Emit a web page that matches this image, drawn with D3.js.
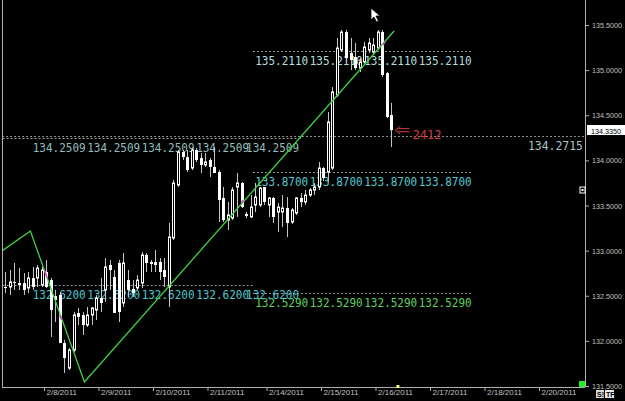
<!DOCTYPE html>
<html><head><meta charset="utf-8">
<script src="https://cdn.jsdelivr.net/npm/d3@7"></script>
<style>html,body{margin:0;padding:0;background:#000;overflow:hidden}</style>
</head><body><svg id="c" width="625" height="401"></svg>
<script>
// ---------- data ----------
const opens = [132.974,132.597,132.597,132.652,132.641,132.641,132.586,132.697,132.697,132.619,
132.763,132.674,132.497,132.508,131.976,131.699,131.899,132.309,132.287,132.176,
132.287,132.342,132.475,132.564,132.841,132.708,132.863,132.420,132.674,132.575,
132.586,132.641,132.952,132.874,132.874,132.874,132.785,132.597,133.140,133.727,
134.093,134.037,133.915,134.115,134.026,133.949,134.004,133.927,133.871,133.583,
133.339,133.361,133.705,133.749,133.406,133.373,133.506,133.506,133.705,133.506,
133.583,133.428,133.428,133.472,133.317,133.417,133.583,133.539,133.616,133.672,
133.705,133.915,133.871,133.915,134.724,135.223,135.422,135.190,135.145,135.023,
135.090,135.223,135.201,135.245,135.422,134.968,134.503];
const highs = [132.996,132.763,132.785,132.863,132.807,132.752,132.763,132.819,132.841,132.819,
132.896,132.697,132.564,132.542,132.010,131.921,132.320,132.364,132.320,132.375,
132.375,132.508,132.697,132.918,132.896,132.785,132.896,132.974,132.785,132.674,
132.730,132.985,132.974,132.896,133.007,132.918,132.918,133.306,133.783,134.115,
134.115,134.115,134.137,134.137,134.082,134.082,134.026,134.148,133.893,133.705,
133.539,133.705,133.860,133.760,133.428,133.616,133.749,133.705,133.705,133.594,
133.594,133.528,133.616,133.594,133.472,133.594,133.638,133.672,133.694,133.749,
133.982,133.927,134.536,134.813,135.356,135.445,135.445,135.356,135.300,135.134,
135.312,135.356,135.356,135.445,135.445,134.979,134.636];
const lows = [132.542,132.530,132.508,132.564,132.564,132.508,132.530,132.564,132.597,132.597,
132.586,132.043,132.209,131.976,131.644,131.677,131.877,132.176,132.065,132.154,
132.176,132.231,132.320,132.431,132.564,132.309,132.209,132.375,132.486,132.486,
132.564,132.586,132.763,132.763,132.763,132.674,132.597,132.375,133.118,133.705,
134.004,133.871,133.893,133.982,133.860,133.927,133.816,133.860,133.317,133.317,
133.229,133.339,133.373,133.472,133.361,133.361,133.428,133.483,133.506,133.373,
133.306,133.206,133.262,133.151,133.295,133.395,133.483,133.506,133.594,133.616,
133.672,133.771,133.760,133.893,134.702,135.201,135.090,135.001,135.001,134.979,
135.057,135.190,135.167,135.223,134.924,134.469,134.148];
const closes = [132.564,132.586,132.652,132.641,132.619,132.564,132.697,132.597,132.807,132.785,
132.597,132.342,132.453,131.976,131.810,131.899,132.287,132.265,132.176,132.287,
132.364,132.475,132.420,132.819,132.785,132.309,132.320,132.863,132.564,132.530,
132.674,132.952,132.863,132.852,132.841,132.763,132.708,133.151,133.749,134.093,
134.037,133.893,134.115,134.004,133.949,133.982,133.927,133.860,133.561,133.339,
133.395,133.672,133.749,133.483,133.384,133.483,133.594,133.694,133.539,133.583,
133.373,133.483,133.472,133.306,133.450,133.583,133.539,133.616,133.672,133.705,
133.915,133.805,134.425,134.758,135.245,135.422,135.134,135.112,135.023,135.090,
135.256,135.300,135.278,135.422,134.946,134.481,134.335];

const dateTickIdx = [9.5,21.5,33.5,45.5,58.5,70.5,82.5,94.5,106.5,118.5];
const dateTickLabels = ["2/8/2011","2/9/2011","2/10/2011","2/11/2011","2/14/2011","2/15/2011","2/16/2011","2/17/2011","2/18/2011","2/20/2011"];
const priceTicks = [131.5,132.0,132.5,133.0,133.5,134.0,134.5,135.0,135.5];

const zigIdx = [-0.4, 6.5, 18.4, 86.6];
const zigPrice = [132.974, 133.217, 131.544, 135.433];
const magentaSegs = [[9.6,132.785,10.2,132.697],[12.9,132.287,13.4,132.231],[52.9,133.528,53.4,133.561],[84.1,135.278,84.6,135.312]];

const levelValues = [135.2110, 133.8700, 132.5290, 134.2509, 132.6200];
const levelFrom = [55.5, 55.5, 55.5, -0.5, -0.5];
const levelTo = [103.5, 103.5, 103.5, 66.5, 55.5];
const levelLabelIdx = [[56,68,80,92],[56,68,80,92],[56,68,80,92],[7,19,31,43,54],[7,19,31,43,54]];
const levelColors = ["#b4dcdc","#56c8d0","#5fcf5f","#93bcbc","#4cc4cc"];
const rightLevel = 134.2715;
const currentPrice = 134.335;
const spreadText = "2412";

// ---------- drawing ----------
const svg = d3.select("#c");
svg.append("rect").attr("width",625).attr("height",401).attr("fill","#000");

const x = d3.scaleLinear().domain([9.5,118.5]).range([44,539]);
const y = d3.scaleLinear().domain([131.5,135.5]).range([386,25]);
const PL = 2, PR = 585, PB = 387;

svg.append("defs").append("clipPath").attr("id","plot")
  .append("rect").attr("x",PL).attr("y",0).attr("width",PR-PL).attr("height",PB);
const plot = svg.append("g").attr("clip-path","url(#plot)");

const segFont = "'DejaVu Sans Mono', monospace";

// right full-width level
plot.append("line").attr("x1",PL).attr("x2",PR)
  .attr("y1",Math.round(y(rightLevel))+0.5).attr("y2",Math.round(y(rightLevel))+0.5)
  .attr("stroke","#8a8a8a").attr("stroke-dasharray","2,2");
svg.append("text").attr("x",PR-2).attr("y",y(rightLevel)+14)
  .attr("text-anchor","end").attr("font-family",segFont).attr("font-size",13)
  .attr("textLength",55).attr("lengthAdjust","spacingAndGlyphs")
  .attr("fill","#a6c4c4").text(rightLevel.toFixed(4));

// level lines and repeated labels
levelValues.forEach((v,k)=>{
  const yy = Math.round(y(v))+0.5;
  plot.append("line").attr("x1",x(levelFrom[k])).attr("x2",x(levelTo[k]))
    .attr("y1",yy).attr("y2",yy).attr("stroke","#9a9a9a").attr("stroke-dasharray","2,2");
  plot.selectAll(null).data(levelLabelIdx[k]).enter().append("text")
    .attr("x",d=>x(d)).attr("y",y(v)+14)
    .attr("font-family",segFont).attr("font-size",13)
    .attr("textLength",53).attr("lengthAdjust","spacingAndGlyphs")
    .attr("fill",levelColors[k]).text(v.toFixed(4));
});

// candles
const idx = d3.range(opens.length);
const cx = i => Math.round(x(i));
plot.selectAll("line.wick").data(idx).enter().append("line").attr("class","wick")
  .attr("x1",i=>cx(i)+0.5).attr("x2",i=>cx(i)+0.5)
  .attr("y1",i=>y(highs[i])).attr("y2",i=>y(lows[i]))
  .attr("stroke","#c4c4c4").attr("stroke-width",1);
plot.selectAll("rect.body").data(idx).enter().append("rect").attr("class","body")
  .attr("x",i=> closes[i]>=opens[i] ? cx(i)-0.5 : cx(i)-1)
  .attr("width",i=> closes[i]>=opens[i] ? 2 : 3)
  .attr("y",i=>y(Math.max(opens[i],closes[i])))
  .attr("height",i=>Math.max(1,Math.abs(y(opens[i])-y(closes[i]))))
  .attr("fill",i=> closes[i]>=opens[i] ? "#000" : "#fff")
  .attr("stroke",i=> closes[i]>=opens[i] ? "#fff" : "none")
  .attr("stroke-width",1);

// zigzag
const zz = zigIdx.map((d,i)=>[d,zigPrice[i]]);
plot.append("path").datum(zz)
  .attr("d",d3.line().x(d=>x(d[0])).y(d=>y(d[1])))
  .attr("fill","none").attr("stroke","#3fd23f").attr("stroke-width",1.3);
plot.selectAll("line.mag").data(magentaSegs).enter().append("line")
  .attr("x1",d=>x(d[0])).attr("y1",d=>y(d[1])).attr("x2",d=>x(d[2])).attr("y2",d=>y(d[3]))
  .attr("stroke","#d24cd2").attr("stroke-width",1.6);

// spread arrow and text
const yc = y(currentPrice);
const ax = x(opens.length-1)+4;
svg.append("path")
  .attr("d",`M${ax},${yc} l5,-4 M${ax},${yc} l5,4 M${ax+3},${yc-1.5} h11 M${ax+3},${yc+1.5} h11`)
  .attr("stroke","#d03c3c").attr("fill","none").attr("stroke-width",1);
svg.append("text").attr("x",ax+17).attr("y",yc+9)
  .attr("font-family",segFont).attr("font-size",13)
  .attr("textLength",29).attr("lengthAdjust","spacingAndGlyphs")
  .attr("fill","#d03c3c").text(spreadText);

// frame
svg.append("line").attr("x1",PL+0.5).attr("x2",PL+0.5).attr("y1",0).attr("y2",PB).attr("stroke","#b0b0b0");
svg.append("line").attr("x1",PR+0.5).attr("x2",PR+0.5).attr("y1",0).attr("y2",PB).attr("stroke","#b0b0b0");
svg.append("line").attr("x1",PL).attr("x2",PR).attr("y1",PB+0.5).attr("y2",PB+0.5).attr("stroke","#b0b0b0");

// y axis
const ya = svg.append("g").attr("transform",`translate(${PR},0)`)
  .call(d3.axisRight(y).tickValues(priceTicks).tickFormat(d=>d.toFixed(4)).tickSize(4).tickPadding(3));
ya.select(".domain").remove();
ya.selectAll("line").attr("stroke","#b0b0b0");
ya.selectAll("text").attr("fill","#c0c0c0").attr("font-family","'Liberation Sans', Arial, sans-serif")
  .attr("font-size",8).attr("textLength",30).attr("lengthAdjust","spacingAndGlyphs");

// current price box
svg.append("rect").attr("x",PR+2).attr("y",Math.round(yc)-5).attr("width",625-PR-2).attr("height",10).attr("fill","#fff");
svg.append("text").attr("x",PR+6).attr("y",Math.round(yc)+3.5)
  .attr("font-family","'Liberation Sans', Arial, sans-serif").attr("font-size",8)
  .attr("textLength",30).attr("lengthAdjust","spacingAndGlyphs")
  .attr("fill","#000").text(currentPrice.toFixed(4));

// x axis
const xa = svg.append("g").attr("transform",`translate(0,${PB})`)
  .call(d3.axisBottom(x).tickValues(dateTickIdx).tickFormat((d,i)=>dateTickLabels[i]).tickSize(4).tickPadding(2));
xa.select(".domain").remove();
xa.selectAll("line").attr("stroke","#b0b0b0");
xa.selectAll("text").attr("fill","#c0c0c0").attr("font-family","'Liberation Sans', Arial, sans-serif")
  .attr("font-size",8).attr("text-anchor","start").attr("dx",2).attr("dy","0.2em");

// small markers
svg.append("rect").attr("x",580).attr("y",187).attr("width",5).attr("height",6).attr("fill","#000").attr("stroke","#fff");
svg.append("rect").attr("x",581.5).attr("y",189).attr("width",2).attr("height",2).attr("fill","#fff");
svg.append("rect").attr("x",579).attr("y",381).attr("width",6).attr("height",6).attr("fill","#22ee22");
svg.append("rect").attr("x",x(opens.length-1)+5).attr("y",385).attr("width",3).attr("height",3).attr("fill","#ffff66");
svg.append("rect").attr("x",596).attr("y",390).attr("width",8).attr("height",8).attr("fill","#d8d8d8");
svg.append("rect").attr("x",605).attr("y",390).attr("width",9).attr("height",8).attr("fill","#e8e8e8");
svg.append("text").attr("x",597).attr("y",397).attr("font-size",7).attr("font-weight","bold")
  .attr("font-family","'Liberation Sans', Arial, sans-serif").attr("fill","#000").text("S!");
svg.append("text").attr("x",606).attr("y",397).attr("font-size",7).attr("font-weight","bold")
  .attr("font-family","'Liberation Sans', Arial, sans-serif").attr("fill","#000").text("TF");

// mouse cursor
svg.append("path").attr("d","M371,8 L371,20 L374,17 L376.5,22 L378.5,21 L376,16 L380,16 Z")
  .attr("fill","#fff").attr("stroke","#000").attr("stroke-width",0.8);
</script></body></html>
